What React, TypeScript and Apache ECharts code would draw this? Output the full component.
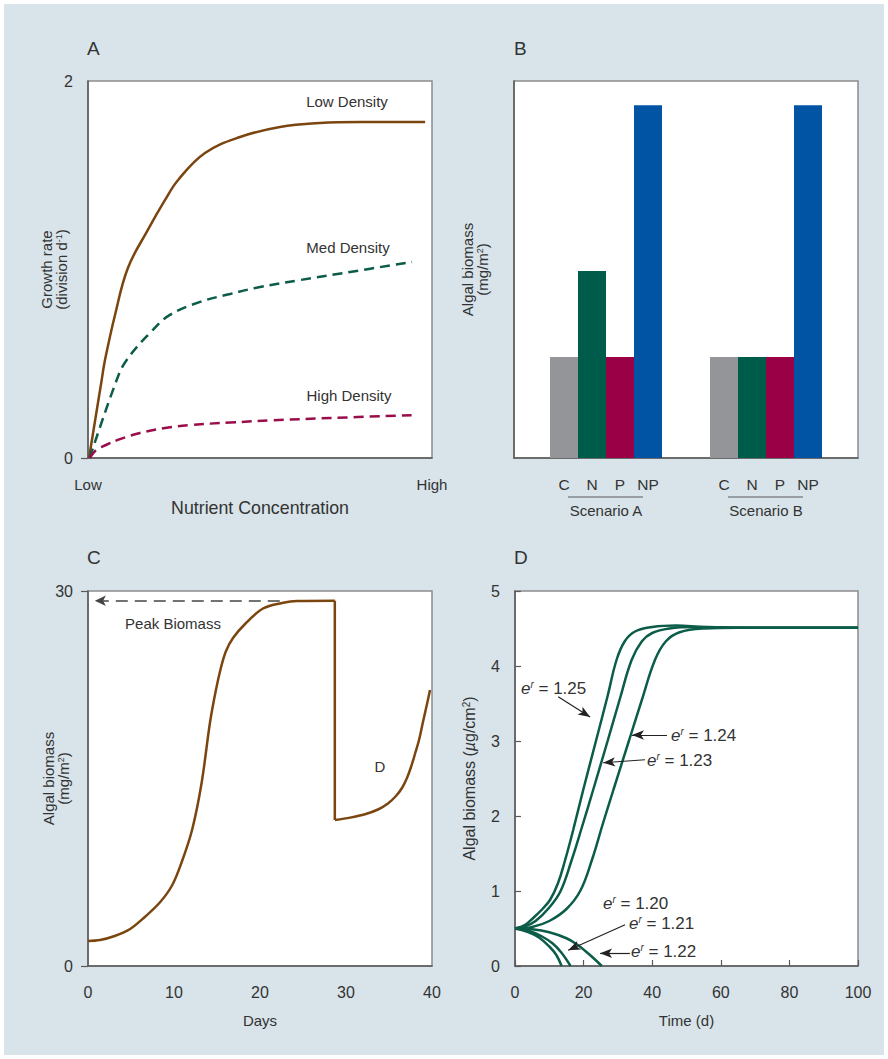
import { useEffect, useRef } from "react";
import * as echarts from "echarts";

// ---------- Panel A: growth rate vs nutrient concentration ----------
const nutrientTickLabels = ["Low", "High"];
const lowDensity = [
  [0.3, 0], [3.98, 0.414], [4.94, 0.52], [7.85, 0.759], [11.6, 1.008], [17.4, 1.21],
  [22.4, 1.369], [26.2, 1.475], [34.0, 1.618], [44.2, 1.703], [55.8, 1.756],
  [67.4, 1.777], [79.1, 1.782], [98.0, 1.782],
];
const medDensity = [
  [0.5, 0], [8.34, 0.414], [11.25, 0.52], [18.0, 0.663], [23.8, 0.759], [32.6, 0.828],
  [41.3, 0.87], [50.0, 0.907], [61.6, 0.944], [76.2, 0.987], [94.2, 1.04],
];
const highDensity = [
  [0.5, 0], [2.33, 0.042], [5.23, 0.069], [9.3, 0.1], [15.1, 0.133], [22.4, 0.159],
  [29.7, 0.175], [41.3, 0.188], [53.8, 0.2], [70.3, 0.212], [95.5, 0.228],
];

// ---------- Panel B: algal biomass bars ----------
const scenarios = ["Scenario A", "Scenario B"];
const treatments = ["C", "N", "P", "NP"];
const biomassC = [26.8, 26.8];
const biomassN = [49.6, 26.8];
const biomassP = [26.8, 26.8];
const biomassNP = [93.6, 93.6];

// ---------- Panel C: biomass over days ----------
const cRise = [
  [0, 2.0], [1.4, 2.08], [3.1, 2.4], [4.9, 2.96], [6.6, 3.92], [8.4, 5.12], [9.8, 6.48],
  [10.9, 8.32], [12.1, 10.88], [13.2, 14.6], [14.19, 19.5], [14.88, 22.1], [15.47, 23.9],
  [16.05, 25.2], [16.86, 26.24], [18.26, 27.36], [20.35, 28.6], [22.7, 29.06], [24.3, 29.2],
  [28.7, 29.22],
];
const cDrop = [[28.7, 29.22], [28.7, 11.68]];
const cRecovery = [
  [28.72, 11.68], [30.47, 11.87], [32.21, 12.14], [33.72, 12.52], [34.88, 13.0],
  [35.81, 13.6], [36.51, 14.24], [37.09, 15.04], [37.56, 15.92], [38.02, 16.96],
  [38.49, 18.08], [38.95, 19.52], [39.42, 20.96], [39.77, 22.08],
];
const peakArrow = [[22.3, 29.22], [0.8, 29.22]];

// ---------- Panel D: biomass vs time for growth factors ----------
const er125 = [
  [0, 0.5], [3, 0.55], [5.3, 0.64], [8, 0.76], [10.2, 0.88], [12.5, 1.1], [14.6, 1.41],
  [17, 1.82], [19.9, 2.35], [23.6, 3.0], [27, 3.6], [29.6, 4.08], [32, 4.33], [35, 4.46],
  [40, 4.52], [47, 4.54], [55, 4.52], [70, 4.51], [100, 4.51],
];
const er124 = [
  [0, 0.5], [3, 0.53], [6, 0.6], [10, 0.78], [13.3, 1.0], [16.5, 1.41], [19.5, 1.85],
  [22.8, 2.35], [27, 3.0], [30.5, 3.55], [34, 4.08], [37, 4.33], [40, 4.44], [45, 4.5],
  [52, 4.52], [70, 4.51], [100, 4.51],
];
const er123 = [
  [0, 0.5], [5, 0.52], [10, 0.6], [15, 0.76], [19, 1.0], [22.4, 1.41], [25.5, 1.88],
  [28.7, 2.35], [33.2, 3.0], [37, 3.55], [40.8, 4.08], [44, 4.33], [48, 4.45], [55, 4.5],
  [65, 4.51], [100, 4.51],
];
const er122 = [[0, 0.5], [5, 0.49], [10, 0.45], [15, 0.37], [18, 0.29], [20.5, 0.2], [23, 0.1], [25.3, 0]];
const er121 = [[0, 0.5], [4, 0.47], [8, 0.39], [11, 0.3], [13.5, 0.18], [16.2, 0]];
const er120 = [[0, 0.5], [4, 0.45], [7, 0.38], [10, 0.26], [12, 0.15], [13.6, 0]];
const dArrows = [
  [[12.6, 3.59], [21.9, 3.32]],
  [[44.3, 3.08], [34.1, 3.08]],
  [[37.9, 2.75], [25.7, 2.71]],
  [[32.1, 0.55], [15.5, 0.21]],
  [[33.5, 0.17], [24.8, 0.17]],
];
const dLabels = [
  { v: "1.25", x: 521, y: 688 },
  { v: "1.24", x: 671, y: 735 },
  { v: "1.23", x: 647, y: 760 },
  { v: "1.20", x: 603, y: 903 },
  { v: "1.21", x: 629, y: 923 },
  { v: "1.22", x: 631, y: 951 },
];

const FONT = "'Liberation Sans', Arial, sans-serif";
const TXT = "#333333";
const AXIS = "#5a5a5a";
const BORDER = "#8c8c8c";
const BROWN = "#7b4510";
const GREEN = "#0b5c48";
const CRIMSON = "#9b0c4b";

function gridBox(left: number, top: number, width: number, height: number, show = true) {
  return {
    left, top, width, height, show,
    backgroundColor: "#ffffff", borderColor: BORDER, borderWidth: 1.5, containLabel: false,
  };
}

const nameStyle = {
  fontSize: 15, color: TXT, fontFamily: FONT, lineHeight: 15,
  rich: { sup: { fontSize: 9, verticalAlign: "top", lineHeight: 9, fontFamily: FONT, color: TXT },
          it: { fontSize: 15, fontStyle: "italic", fontFamily: FONT, color: TXT } },
};
const nameStyleD = {
  fontSize: 16, color: TXT, fontFamily: FONT, lineHeight: 16,
  rich: { sup: { fontSize: 10, verticalAlign: "top", lineHeight: 10, fontFamily: FONT, color: TXT },
          it: { fontSize: 16, fontStyle: "italic", fontFamily: FONT, color: TXT } },
};
const tickLabel = { fontSize: 16, color: TXT, fontFamily: FONT };

function txt(text: string, x: number, y: number, size = 15, align = "center", rich?: any) {
  return {
    type: "text", x, y, z: 50,
    style: {
      text, fill: TXT, fontSize: size, fontFamily: FONT,
      align, textAlign: align, verticalAlign: "middle", textVerticalAlign: "middle",
      rich,
    },
  };
}

const erRich = {
  e: { fontSize: 17, fontStyle: "italic", fontFamily: FONT, fill: TXT, color: TXT },
  r: { fontSize: 10, fontStyle: "italic", fontFamily: FONT, fill: TXT, color: TXT, verticalAlign: "top", lineHeight: 10 },
};

export default function App() {
  const ref = useRef<HTMLDivElement>(null);
  useEffect(() => {
    if (!ref.current) return;
    const chart = echarts.init(ref.current, undefined, { renderer: "svg" });
    const lineBase = { type: "line", showSymbol: false, symbol: "none", silent: true };
    const option: any = {
      animation: false,
      textStyle: { fontFamily: FONT },
      grid: [
        gridBox(88, 81, 344, 377),
        gridBox(514, 81, 344, 377),
        { left: 526, top: 81, width: 320, height: 377, show: false },
        gridBox(88, 591, 344, 375),
        gridBox(515, 591, 343, 375),
      ],
      xAxis: [
        {
          gridIndex: 0, type: "value", min: 0, max: 100, interval: 100,
          axisLine: { show: true, lineStyle: { color: AXIS, width: 1.5 } },
          axisTick: { show: false }, splitLine: { show: false },
          axisLabel: { ...tickLabel, fontSize: 15, margin: 19, formatter: (v: number) => (v === 0 ? nutrientTickLabels[0] : nutrientTickLabels[1]) },
          name: "Nutrient Concentration", nameLocation: "middle", nameGap: 41, nameMoveOverlap: false,
          nameTextStyle: { fontSize: 17.8, color: TXT, fontFamily: FONT },
        },
        {
          gridIndex: 1, type: "value", min: 0, max: 1,
          axisLine: { show: true, lineStyle: { color: AXIS, width: 1.5 } },
          axisTick: { show: false }, axisLabel: { show: false }, splitLine: { show: false },
        },
        {
          gridIndex: 2, type: "category", data: scenarios,
          axisLine: { show: false }, axisTick: { show: false }, splitLine: { show: false },
          axisLabel: { ...tickLabel, fontSize: 15, margin: 45 },
        },
        {
          gridIndex: 3, type: "value", min: 0, max: 40, interval: 10,
          axisLine: { show: true, lineStyle: { color: AXIS, width: 1.5 } },
          axisTick: { show: false }, splitLine: { show: false },
          axisLabel: { ...tickLabel, margin: 18 },
          name: "Days", nameLocation: "middle", nameGap: 47, nameMoveOverlap: false,
          nameTextStyle: { fontSize: 15, color: TXT, fontFamily: FONT },
        },
        {
          gridIndex: 4, type: "value", min: 0, max: 100, interval: 20,
          axisLine: { show: true, lineStyle: { color: AXIS, width: 1.5 } },
          axisTick: { show: true, inside: true, length: 6, lineStyle: { color: AXIS, width: 1.2 } },
          splitLine: { show: false },
          axisLabel: { ...tickLabel, margin: 18 },
          name: "Time (d)", nameLocation: "middle", nameGap: 47, nameMoveOverlap: false,
          nameTextStyle: { fontSize: 15, color: TXT, fontFamily: FONT },
        },
      ],
      yAxis: [
        {
          gridIndex: 0, type: "value", min: 0, max: 2, interval: 2,
          axisLine: { show: true, lineStyle: { color: AXIS, width: 1.5 } },
          axisTick: { show: true, length: 7, customValues: [0], lineStyle: { color: AXIS, width: 1.2 } },
          splitLine: { show: false },
          axisLabel: { ...tickLabel, margin: 15 },
          name: "Growth rate\n(division d{sup|-1})", nameLocation: "middle", nameGap: 19, nameRotate: 90,
          nameMoveOverlap: false,
          nameTextStyle: nameStyle,
        },
        {
          gridIndex: 1, type: "value", min: 0, max: 1,
          axisLine: { show: true, lineStyle: { color: AXIS, width: 1.5 } },
          axisTick: { show: false }, axisLabel: { show: false }, splitLine: { show: false },
          name: "Algal biomass\n(mg/m{sup|2})", nameLocation: "middle", nameGap: 24, nameRotate: 90,
          nameMoveOverlap: false,
          nameTextStyle: nameStyle,
        },
        {
          gridIndex: 2, type: "value", min: 0, max: 100, show: false,
        },
        {
          gridIndex: 3, type: "value", min: 0, max: 30, interval: 30,
          axisLine: { show: true, lineStyle: { color: AXIS, width: 1.5 } },
          axisTick: { show: true, length: 7, lineStyle: { color: AXIS, width: 1.2 } },
          splitLine: { show: false },
          axisLabel: { ...tickLabel, margin: 15 },
          name: "Algal biomass\n(mg/m{sup|2})", nameLocation: "middle", nameGap: 17, nameRotate: 90,
          nameMoveOverlap: false,
          nameTextStyle: nameStyle,
        },
        {
          gridIndex: 4, type: "value", min: 0, max: 5, interval: 1,
          axisLine: { show: true, lineStyle: { color: AXIS, width: 1.5 } },
          axisTick: { show: true, inside: true, length: 6, lineStyle: { color: AXIS, width: 1.2 } },
          splitLine: { show: false },
          axisLabel: { ...tickLabel, margin: 15 },
          name: "Algal biomass ({it|µ}g/cm{sup|2})", nameLocation: "middle", nameGap: 38, nameRotate: 90,
          nameMoveOverlap: false,
          nameTextStyle: nameStyleD,
        },
      ],
      series: [
        { ...lineBase, name: "Low Density", xAxisIndex: 0, yAxisIndex: 0, data: lowDensity, smooth: 0.4,
          lineStyle: { color: BROWN, width: 2.5 } },
        { ...lineBase, name: "Med Density", xAxisIndex: 0, yAxisIndex: 0, data: medDensity, smooth: 0.4,
          lineStyle: { color: GREEN, width: 2.5, type: [10, 6] } },
        { ...lineBase, name: "High Density", xAxisIndex: 0, yAxisIndex: 0, data: highDensity, smooth: 0.4,
          lineStyle: { color: CRIMSON, width: 2.5, type: [10, 6] } },
        ...[
          { n: treatments[0], d: biomassC, c: "#939598" },
          { n: treatments[1], d: biomassN, c: "#005c4a" },
          { n: treatments[2], d: biomassP, c: "#9a0046" },
          { n: treatments[3], d: biomassNP, c: "#0054a3" },
        ].map((s) => ({
          type: "bar", name: s.n, xAxisIndex: 2, yAxisIndex: 2, data: s.d, barWidth: 28, barGap: "0%",
          silent: true, itemStyle: { color: s.c },
          label: { show: true, position: "bottom", distance: 18, formatter: s.n, fontSize: 15.5, color: TXT, fontFamily: FONT },
        })),
        { ...lineBase, name: "C rise", xAxisIndex: 3, yAxisIndex: 3, data: cRise, smooth: 0.35,
          lineStyle: { color: BROWN, width: 2.5 },
          markLine: {
            silent: true, symbol: ["none", "arrow"], symbolSize: [8, 11], label: { show: false },
            lineStyle: { color: "#444444", width: 1.5, type: [12, 7] },
            data: [[{ coord: peakArrow[0], symbol: "none" }, { coord: peakArrow[1], symbol: "arrow" }]],
          } },
        { ...lineBase, name: "C drop", xAxisIndex: 3, yAxisIndex: 3, data: cDrop,
          lineStyle: { color: BROWN, width: 2.5 } },
        { ...lineBase, name: "C recovery", xAxisIndex: 3, yAxisIndex: 3, data: cRecovery, smooth: 0.3,
          lineStyle: { color: BROWN, width: 2.5 } },
        ...[er125, er124, er123, er122, er121, er120].map((d, i) => ({
          ...lineBase, name: "er" + i, xAxisIndex: 4, yAxisIndex: 4, data: d, smooth: 0.4,
          lineStyle: { color: GREEN, width: 2.5 },
          markLine: i === 0 ? {
            silent: true, symbol: ["none", "arrow"], symbolSize: [7, 12], label: { show: false },
            lineStyle: { color: "#222222", width: 1.2, type: "solid" },
            data: dArrows.map((a) => [{ coord: a[0], symbol: "none" }, { coord: a[1], symbol: "arrow" }]),
          } : undefined,
        })),
      ],
      graphic: [
        { type: "rect", z: -10, shape: { x: 4, y: 4, width: 880, height: 1051 }, style: { fill: "#d8e3ea" } },
        txt("A", 87, 48, 19, "left"),
        txt("B", 514, 48, 19, "left"),
        txt("C", 87, 557, 19, "left"),
        txt("D", 514, 557, 19, "left"),
        txt("Low Density", 347, 101),
        txt("Med Density", 348, 247),
        txt("High Density", 349, 395),
        txt("Peak Biomass", 173, 623),
        txt("D", 380, 766),
        { type: "line", z: 50, shape: { x1: 568, y1: 497, x2: 643, y2: 497 }, style: { stroke: AXIS, lineWidth: 1.2 } },
        { type: "line", z: 50, shape: { x1: 728, y1: 497, x2: 803, y2: 497 }, style: { stroke: AXIS, lineWidth: 1.2 } },
        ...dLabels.map((l) => txt(`{e|e}{r|r} = ${l.v}`, l.x, l.y, 17, "left", erRich)),
      ],
    };
    chart.setOption(option);
    return () => chart.dispose();
  }, []);
  return (
    <div
      ref={ref}
      style={{ position: "fixed", left: 0, top: 0, width: 888, height: 1059, background: "#ffffff" }}
    />
  );
}
